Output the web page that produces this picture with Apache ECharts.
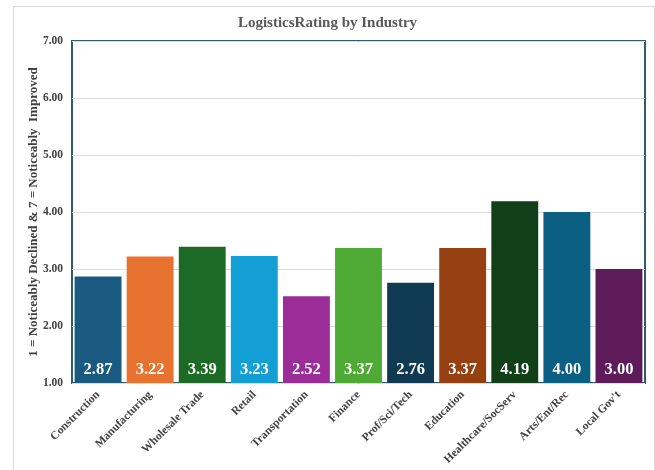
<!DOCTYPE html>
<html>
<head>
<meta charset="utf-8">
<script src="https://cdn.jsdelivr.net/npm/echarts@6/dist/echarts.min.js"></script>
<style>
  html, body { margin: 0; padding: 0; background: #ffffff; }
  #chart { width: 655px; height: 470px; }
</style>
</head>
<body>
<div id="chart"></div>
<script>
// Average logistics rating per industry (1–7 scale)
const industries = ['Construction', 'Manufacturing', 'Wholesale Trade', 'Retail', 'Transportation',
  'Finance', 'Prof/Sci/Tech', 'Education', 'Healthcare/SocServ', 'Arts/Ent/Rec', "Local Gov't"];
const ratings = [2.87, 3.22, 3.39, 3.23, 2.52, 3.37, 2.76, 3.37, 4.19, 4.00, 3.00];
const barColors = ['#1a5a80', '#e8722f', '#1d6a26', '#139ed6', '#9c2c98', '#4eaa34',
  '#0f3a52', '#964012', '#113f18', '#0b5f82', '#5e1b5a'];
const yTicks = [1, 7, 1]; // min, max, step

const serif = '"Liberation Serif", "Times New Roman", serif';
const chart = echarts.init(document.getElementById('chart'));

chart.setOption({
  backgroundColor: '#ffffff',
  animation: false,
  graphic: [{
    type: 'rect',
    left: 11, top: 4,
    shape: { width: 641, height: 480 },
    style: { fill: 'none', stroke: '#d9d9d9', lineWidth: 1 },
    silent: true
  }],
  title: {
    text: 'LogisticsRating by Industry',
    left: 'center',
    top: 11,
    textStyle: { fontFamily: serif, fontSize: 15, fontWeight: 'bold', color: '#595959' }
  },
  grid: {
    left: 72, right: 10, top: 41, bottom: 87,
    show: true,
    borderColor: '#2e5e6e',
    borderWidth: 2,
    backgroundColor: 'transparent'
  },
  xAxis: {
    type: 'category',
    data: industries,
    axisLine: { show: false },
    axisTick: { show: false },
    axisLabel: {
      rotate: 45,
      interval: 0,
      margin: 10,
      fontFamily: serif,
      fontSize: 11.5,
      fontWeight: 'bold',
      color: '#404040'
    }
  },
  yAxis: {
    type: 'value',
    min: yTicks[0], max: yTicks[1], interval: yTicks[2],
    name: '1 = Noticeably Declined & 7 = Noticeably  Improved',
    nameLocation: 'middle',
    nameGap: 32,
    nameMoveOverlap: false,
    nameTextStyle: { fontFamily: serif, fontSize: 13, fontWeight: 'bold', color: '#404040' },
    axisLine: { show: false },
    axisTick: { show: false },
    splitLine: { lineStyle: { color: '#dcdcdc', width: 1 } },
    axisLabel: {
      margin: 9,
      fontFamily: serif,
      fontSize: 11.5,
      fontWeight: 'bold',
      color: '#404040',
      formatter: v => v.toFixed(2)
    }
  },
  series: [{
    type: 'bar',
    data: ratings.map((v, i) => ({ value: v, itemStyle: { color: barColors[i] } })),
    barCategoryGap: '10%',
    label: {
      show: true,
      position: 'insideBottom',
      distance: 5,
      formatter: p => p.value.toFixed(2),
      fontFamily: serif,
      fontSize: 16.5,
      fontWeight: 'bold',
      color: '#ffffff'
    }
  }]
});
</script>
</body>
</html>
